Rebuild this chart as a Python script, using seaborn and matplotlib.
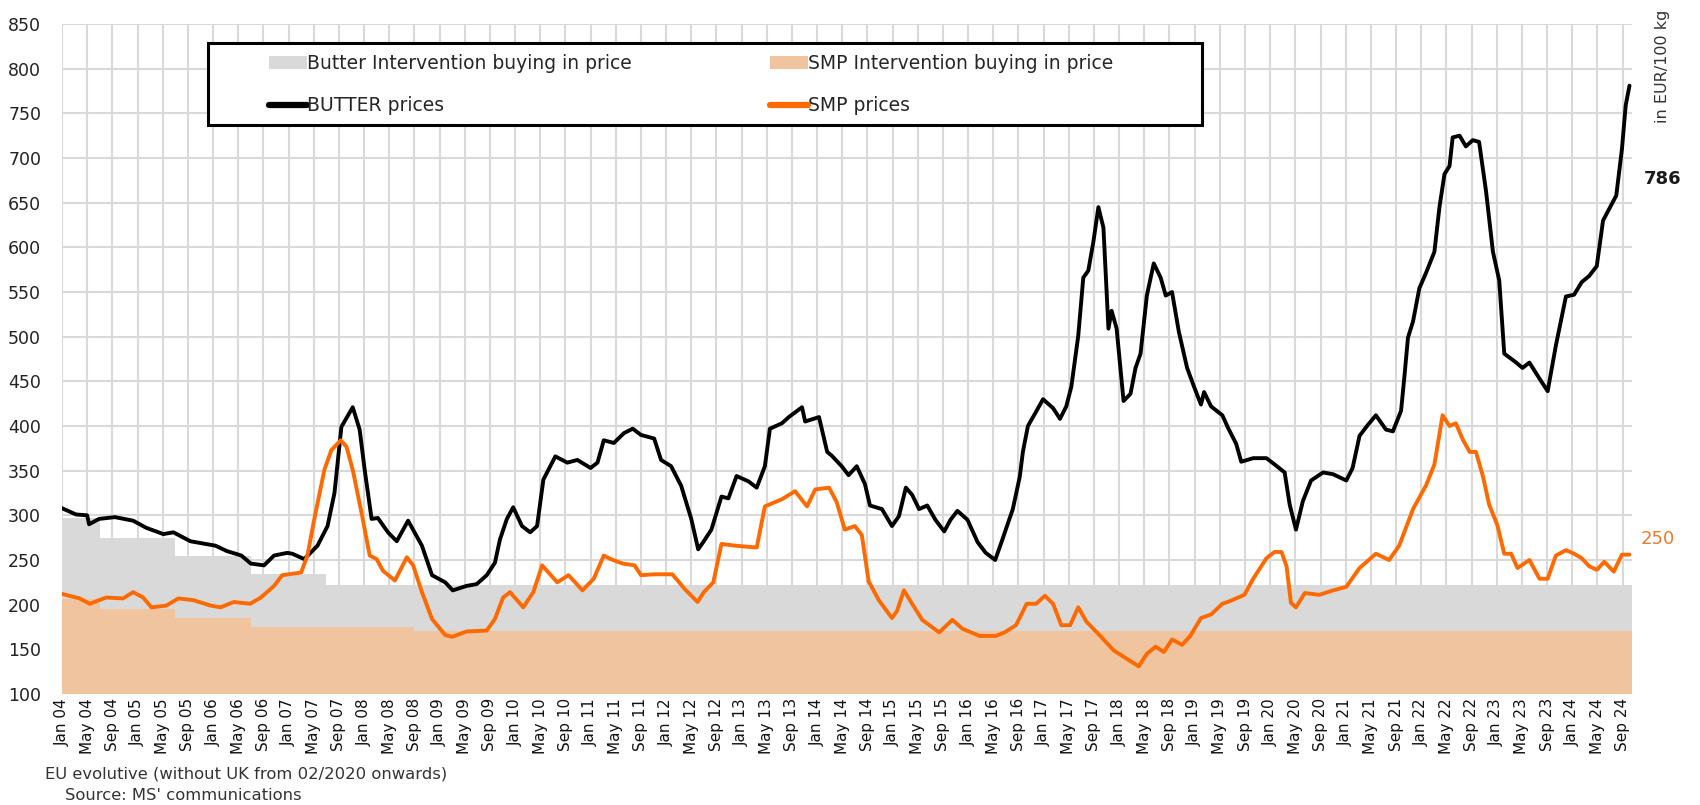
import matplotlib
matplotlib.use("Agg")
import matplotlib.pyplot as plt
from matplotlib.patches import Rectangle
import seaborn as sns

# x = months counted from Jan 2004 (0 = Jan 04), y = EUR/100 kg
butter_month = [0, 2.2, 4, 4.3, 5.9, 8.4, 11.3, 13.4, 16.1, 17.7, 20.4, 24.4, 26.2, 28.5, 30, 32.1,
                33.7, 35.8, 36.6, 38.5, 40.6, 42.2, 43.3, 44.4, 46.2, 47.3, 48.1, 49.2, 50.2, 51.8,
                53.2, 55, 57.2, 58.8, 60.9,
                62.1, 64.3, 65.9, 67.5, 68.8, 69.6, 70.7, 71.7, 73.1, 74.4, 75.5, 76.5, 78.4, 80.3,
                81.9, 84, 85.1, 86.1, 87.7, 89.3, 90.7, 92, 94.1, 95.2, 96.8, 98.4, 100, 101.1, 101.9,
                103.2, 104.8, 105.9, 107.2, 109.1, 110.4, 111.7, 112.5, 114.4, 115.5, 117.6, 118.1,
                120.3, 121.6,
                122.3, 123.9, 125, 126.3, 127.6, 128.4, 130.3, 131.9, 133, 134.1, 135.1, 136.2, 137.5,
                138.8, 140.2, 141.2, 142.3, 143.9, 145.5, 146.8, 148.3, 149.5, 151.1, 152.2, 152.7,
                153.5, 154.8, 155.9, 157.5, 158.6, 159.6, 160.4, 161.5, 162.3, 163.1, 163.9, 164.7,
                165.5, 166.3, 166.8, 167.6, 168.7, 169.8, 170.6, 171.4, 172.4, 173.5, 174.6, 175.4,
                176.4, 177.5, 178.8, 179.9, 181, 181.5, 182.6, 184.4,
                185.3, 186.6, 187.4, 189.3, 191.4, 192.7, 194.3, 195.1, 196.1, 197.2, 198.5, 200.4,
                202, 204.1, 205.1, 206.2, 207.5, 208.8, 210.4, 211.5, 212.8, 213.3, 213.9, 214.7,
                215.7, 216.8, 218.1, 218.9, 219.7, 220.5, 221, 222.1, 223.1, 224.2, 225.2, 226.3,
                227.4, 228.4, 229.2, 231.1, 232.1, 233.2, 234.8, 236.1, 237.4, 239, 240.3,
                241.5, 242.7, 243.9, 244.9, 246.4, 247, 247.9, 248.5, 249.1]
butter_price = [308, 301, 300, 290, 296, 298, 294, 286, 279, 281, 271, 266, 260, 255, 246, 244,
                255, 258, 257, 251, 266, 288, 325, 399, 421, 396, 351, 296, 297, 281,
                271, 294, 266, 233, 225,
                216, 221, 223, 233, 247, 273, 296, 309, 288, 281, 288, 340, 366, 359,
                362, 353, 359, 384, 381, 392, 397, 390, 386, 362, 355, 333, 296, 262, 270,
                284, 321, 319, 344, 338, 331, 355, 397, 403, 410, 421, 405,
                410, 371,
                367, 355, 345, 355, 335, 311, 307, 288, 299, 331, 323, 307, 311,
                295, 282, 295, 305, 295, 270, 258, 250, 274, 307, 343, 371,
                400, 416, 430, 420, 408, 422, 444, 501, 566, 574, 606, 645,
                622, 509, 529, 509, 428, 436, 465, 481, 546, 582, 566, 546,
                550, 505, 465, 444, 424, 438, 422, 412,
                398, 380, 360, 364, 364, 357, 348, 312, 284, 316, 339, 348,
                346, 339, 353, 389, 401, 412, 396, 394, 417, 453, 499, 517,
                554, 572, 595, 645, 682, 691, 723, 725, 713, 720, 718, 663,
                595, 563, 481, 471, 465, 471, 453, 439, 490, 545, 547,
                561, 568, 579, 630, 650, 658, 710, 759, 781]

smp_month = [0, 2.8, 4.4, 7, 9.7, 11.3, 12.9, 14.2, 16.6, 18.5, 20.9, 23.6, 25.2, 27.3, 29.9,
             31.6, 33.7, 35, 38, 39, 40.1, 41.7, 42.8, 44.3, 45.2, 46.2, 47.6, 48.9, 50, 51,
             52.9, 54.8, 55.8, 57.2, 58.8, 60.9,
             62, 64.3, 67.5, 68.8, 70.1, 71.2, 73.3, 74.9, 76.3, 78.7, 80.5, 82.7, 84.5, 86.1,
             87.2, 89.1, 91, 92, 94.1, 97, 98.9, 101, 102, 103.5, 104.8, 107, 110.4, 111.7,
             114.4, 116.5, 118.4, 119.7, 121.9,
             123.1, 124.4, 126, 127.1, 128.2, 129.8, 131.9, 132.7, 133.8, 135.1, 136.7, 139.4,
             141.5, 143.1, 145.8, 148.4, 149.8, 151.6, 153.3, 154.8, 156.2, 157.5, 158.8, 160.2,
             161.5, 162.8, 165, 167.1, 169.3, 171.1, 172.4, 173.8, 175.1, 176.4, 178, 179.3,
             181, 182.6, 184.4,
             185.6, 187.9, 189.3, 191.4, 192.7, 193.8, 194.6, 195.3, 196.1, 197.5, 199.8, 202,
             204.1, 206.2, 208.8, 210.9, 212.5, 214.7, 216.8, 218.1, 219.4, 220.5, 221.5, 222.6,
             223.7, 224.7, 225.8, 226.8, 228.1, 229.2, 230.3, 231.3, 233.2, 234.8, 236.1, 237.4,
             239, 240.3,
             241.5, 242.7, 243.9, 245.1, 246.6, 247.9, 249.1]
smp_price = [212, 207, 201, 208, 207, 214, 208, 197, 199, 207, 205, 199, 197, 203, 201,
             208, 221, 233, 236, 255, 296, 351, 373, 384, 377, 351, 303, 255, 251, 238,
             227, 253, 244, 214, 184, 166,
             164, 170, 171, 184, 208, 214, 197, 214, 244, 225, 233, 216, 229, 255,
             251, 246, 244, 233, 234, 234, 218, 203, 214, 225, 268, 266, 264, 310,
             318, 327, 310, 329, 331,
             315, 284, 288, 278, 226, 205, 185, 193, 216, 201, 183, 169,
             183, 173, 165, 165, 169, 177, 201, 201, 210, 201, 177, 177,
             197, 181, 165, 149, 139, 131, 145, 153, 147, 161, 155, 165,
             185, 189, 201,
             204, 211, 229, 252, 259, 259, 243, 202, 197, 213, 211, 216,
             220, 241, 257, 250, 266, 307, 334, 357, 412, 400, 403, 385,
             371, 371, 344, 312, 289, 257, 257, 241, 250, 229, 229, 255,
             261, 257,
             252, 243, 239, 248, 237, 256, 256]

# intervention buying-in prices (step changes)
butter_int_month = [0, 6, 18, 30, 42, 249.5]
butter_int_price = [297, 275, 254, 234, 222, 222]
smp_int_month = [0, 6, 18, 30, 56, 249.5]
smp_int_price = [206, 195, 185, 175, 170, 170]

month_names = ["Jan", "May", "Sep"]
tick_months = list(range(0, 249, 4))
tick_labels = [f"{month_names[(m % 12) // 4]} {4 + m // 12:02d}" for m in tick_months]

sns.set_theme(style="whitegrid")
plt.rcParams["font.family"] = ["DejaVu Sans"]

fig = plt.figure(figsize=(17, 8.05), dpi=100)
ax = fig.add_axes([62 / 1700, 1 - 694 / 805, 1570 / 1700, 670 / 805])

ax.fill_between(butter_int_month, 100, butter_int_price, step="post", color="#d9d9d9",
                lw=0, label="Butter Intervention buying in price", zorder=1)
sns.lineplot(x=butter_month, y=butter_price, color="black", lw=2.8, estimator=None,
             sort=False, ax=ax, label="BUTTER prices", zorder=3)
ax.fill_between(smp_int_month, 100, smp_int_price, step="post", color="#f0c49e",
                lw=0, label="SMP Intervention buying in price", zorder=1.5)
sns.lineplot(x=smp_month, y=smp_price, color="#ff6a00", lw=2.8, estimator=None,
             sort=False, ax=ax, label="SMP prices", zorder=3)

ax.set_xlim(0, 249.5)
ax.set_ylim(100, 850)
ax.set_yticks(range(100, 851, 50))
ax.set_xticks(tick_months)
ax.set_xticklabels(tick_labels, rotation=90, fontsize=11)
ax.tick_params(axis="y", labelsize=12.5, pad=15, length=0, labelcolor="#222222")
ax.tick_params(axis="x", pad=3, length=0, labelcolor="#111111")
ax.set_xlabel("")
ax.set_ylabel("")
ax.grid(color="#d9d9d9", lw=1.5)
ax.set_axisbelow(True)
for s in ax.spines.values():
    s.set_visible(False)

# legend: a black box with two columns
handles, labels = ax.get_legend_handles_labels()
hd = dict(zip(labels, handles))
if ax.legend_:
    ax.legend_.remove()
box = Rectangle(((208 - 62) / 1570, (694 - 125) / 670), 994 / 1570, 82 / 670,
                transform=ax.transAxes, facecolor="white", edgecolor="black", lw=2.2, zorder=4.5)
ax.add_patch(box)
col_pos = [((269 - 62) / 1570, ["Butter Intervention buying in price", "BUTTER prices"]),
           ((770 - 62) / 1570, ["SMP Intervention buying in price", "SMP prices"])]
legs = []
for x0, labs in col_pos:
    leg = ax.legend([hd[l] for l in labs], labs, loc="upper left",
                    bbox_to_anchor=(x0, (694 - 54) / 670), frameon=False, fontsize=13.5,
                    handlelength=2.0, handletextpad=0.05, borderpad=0, borderaxespad=0,
                    labelspacing=1.25)
    leg.set_zorder(5)
    for h in leg.legend_handles:
        if h.__class__.__name__ == "Line2D":
            h.set_linewidth(4.5)
    legs.append(leg)
ax.add_artist(legs[0])

fig.text(1662 / 1700, 1 - 66 / 805, "in EUR/100 kg", rotation=90, ha="center", va="center",
         fontsize=11.5, color="#333333")
fig.text(1663 / 1700, 1 - 179 / 805, "786", ha="center", va="center", fontsize=13,
         fontweight="bold", color="#1a1a1a")
fig.text(1658 / 1700, 1 - 539 / 805, "250", ha="center", va="center", fontsize=13,
         color="#f07a2a")
fig.text(45 / 1700, 1 - 774 / 805, "EU evolutive (without UK from 02/2020 onwards)",
         ha="left", va="center", fontsize=11.8, color="#333333")
fig.text(65 / 1700, 1 - 795 / 805, "Source: MS' communications", ha="left", va="center",
         fontsize=11.8, color="#333333")

fig.savefig("out.png", dpi=100)
